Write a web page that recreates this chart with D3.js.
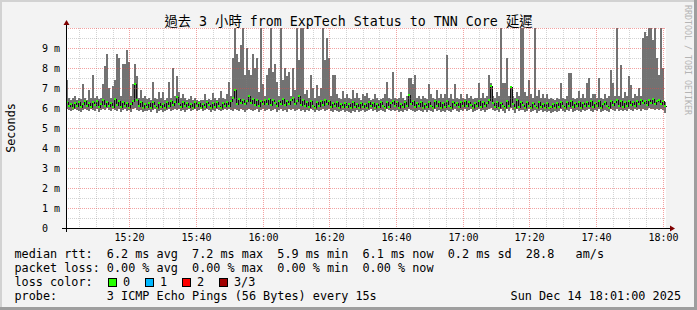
<!DOCTYPE html>
<html>
<head>
<meta charset="utf-8">
<script src="https://cdnjs.cloudflare.com/ajax/libs/d3/7.8.5/d3.min.js"></script>
<style>
    body { margin: 0; background: #fff; }
    svg text { font-family: "DejaVu Sans Mono", "Noto Sans CJK TC", monospace; white-space: pre; }
</style>
</head>
<body>
<script>
// ping rtt in ms, one entry per 36 s column (300 columns over 3 h)
var maxRtt = [
    7.4, 6.5, 6.4, 6.5, 6.6, 6.4, 6.5, 6.45, 7.2, 6.5, 6.4, 6.9, 6.5, 7.65, 6.5, 6.6, 6.45, 6.5, 7.2, 8.1,
    8.7, 7.0, 6.5, 7.1, 7.4, 8.7, 8.5, 6.6, 8.2, 8.2, 8.9, 8.3, 6.6, 7.2, 8.2, 7.6, 6.5, 6.9, 6.5, 6.6,
    6.45, 6.5, 6.4, 7.3, 6.5, 6.45, 6.8, 6.5, 6.8, 6.4, 6.5, 7.3, 6.5, 8.0, 6.6, 7.6, 6.8, 6.5, 6.7, 6.5,
    6.4, 6.45, 6.6, 6.4, 6.5, 6.4, 6.35, 6.4, 6.4, 6.7, 6.4, 6.45, 6.4, 6.75, 6.5, 6.4, 6.5, 6.85, 6.5, 6.45,
    6.7, 7.3, 6.6, 8.5, 10.2, 8.7, 8.3, 9.15, 10.2, 7.65, 9.0, 7.9, 7.65, 8.7, 8.0, 8.5, 6.8, 10.2, 7.2, 6.6,
    7.65, 8.0, 10.2, 7.8, 8.2, 7.3, 6.6, 10.2, 7.4, 8.0, 7.6, 7.8, 6.6, 8.0, 6.9, 10.2, 8.4, 10.2, 10.2, 6.7,
    6.9, 6.5, 7.65, 7.0, 6.5, 7.15, 6.6, 7.0, 10.2, 8.4, 9.5, 8.5, 6.6, 7.65, 7.65, 6.7, 6.5, 6.45, 6.85, 6.5,
    6.7, 6.5, 6.45, 6.9, 6.5, 6.75, 6.5, 6.4, 6.7, 6.6, 6.75, 6.5, 6.4, 6.45, 6.7, 6.5, 6.4, 6.45, 6.5, 6.7,
    7.3, 6.5, 6.45, 7.8, 6.5, 6.45, 6.5, 6.8, 6.5, 6.4, 6.6, 7.5, 7.5, 7.2, 7.65, 6.5, 6.6, 6.45, 6.6, 6.5,
    6.45, 7.2, 6.7, 6.5, 6.45, 6.9, 6.5, 6.7, 6.5, 6.7, 8.65, 6.5, 6.7, 6.45, 7.2, 6.5, 6.45, 6.7, 6.5, 6.45,
    6.7, 6.5, 6.6, 6.45, 6.5, 6.5, 7.25, 6.5, 6.75, 6.5, 6.6, 7.65, 7.25, 6.6, 6.5, 6.8, 6.6, 10.2, 7.25, 7.25,
    8.5, 6.6, 7.1, 6.6, 6.5, 6.8, 6.6, 10.2, 10.2, 6.8, 6.6, 7.4, 6.7, 6.5, 10.2, 6.6, 6.9, 6.5, 6.7, 6.5,
    6.7, 6.45, 6.5, 6.45, 6.4, 6.5, 6.45, 7.25, 6.5, 6.45, 6.6, 7.75, 7.75, 6.5, 6.45, 6.5, 6.85, 6.5, 6.7, 6.5,
    7.25, 7.5, 6.5, 6.7, 6.7, 6.5, 7.5, 6.5, 6.45, 6.7, 6.5, 6.6, 7.9, 7.25, 6.6, 10.2, 6.6, 8.15, 6.5, 6.8,
    6.6, 7.6, 7.15, 6.5, 6.7, 6.6, 7.0, 6.6, 9.5, 9.8, 9.6, 10.2, 10.0, 9.4, 10.2, 8.5, 7.65, 10.2, 8.0, 6.3
];
var medianRtt = [
    6.3, 6.1, 6.2, 6.0, 6.25, 6.1, 6.3, 6.05, 6.2, 6.35, 6.1, 6.25, 6.05, 6.3, 6.15, 6.35, 6.05, 6.2, 6.4, 6.1,
    6.3, 6.1, 6.25, 6.05, 6.45, 6.15, 6.35, 6.05, 6.3, 6.1, 6.25, 6.0, 6.2, 6.35, 7.2, 6.4, 6.1, 6.3, 6.0, 6.2,
    6.05, 6.25, 6.0, 6.3, 6.1, 6.0, 6.25, 6.05, 6.2, 6.0, 6.3, 6.1, 6.35, 6.15, 6.3, 6.55, 6.2, 6.05, 6.3, 6.1,
    6.25, 6.05, 6.2, 6.0, 6.3, 6.1, 6.25, 6.0, 6.2, 6.05, 6.3, 6.15, 6.0, 6.25, 6.05, 6.3, 6.1, 6.0, 6.25, 6.1,
    6.3, 6.1, 6.35, 6.5, 6.9, 6.2, 6.45, 6.25, 6.4, 6.2, 6.35, 6.6, 6.25, 6.45, 6.15, 6.4, 6.1, 6.35, 6.2, 6.4,
    6.2, 6.45, 6.15, 6.4, 6.25, 6.1, 6.35, 6.2, 6.45, 6.15, 6.35, 6.2, 6.4, 6.5, 6.2, 6.35, 6.6, 6.15, 6.4, 6.1,
    6.3, 6.05, 6.35, 6.1, 6.0, 6.3, 6.1, 6.35, 6.15, 6.4, 6.2, 6.35, 6.05, 6.25, 6.1, 6.3, 6.0, 6.2, 6.05, 6.25,
    6.05, 6.2, 6.0, 6.3, 6.05, 6.2, 6.0, 6.25, 6.05, 6.2, 6.0, 6.3, 6.1, 6.25, 6.0, 6.2, 6.05, 6.3, 6.1, 6.0,
    6.3, 6.05, 6.25, 6.35, 6.1, 6.3, 6.0, 6.2, 6.05, 6.3, 6.1, 6.65, 6.2, 6.35, 6.05, 6.25, 6.1, 6.3, 6.0, 6.2,
    6.05, 6.3, 6.1, 6.0, 6.35, 6.1, 6.3, 6.0, 6.25, 6.05, 6.35, 6.1, 6.0, 6.3, 6.15, 6.25, 6.05, 6.3, 6.1, 6.35,
    6.1, 6.3, 6.15, 6.0, 6.25, 6.1, 6.35, 6.05, 6.3, 6.1, 6.25, 6.4, 7.1, 6.25, 6.05, 6.3, 6.0, 6.25, 6.1, 6.0,
    6.35, 6.1, 7.05, 6.2, 6.0, 6.4, 6.05, 6.3, 6.15, 6.0, 6.3, 6.1, 6.0, 6.25, 6.1, 6.0, 6.3, 6.05, 6.2, 6.0,
    6.25, 6.0, 6.05, 6.2, 6.0, 6.25, 6.05, 6.3, 6.1, 6.0, 6.3, 6.1, 6.35, 6.05, 6.25, 6.1, 6.3, 6.0, 6.25, 6.1,
    6.3, 6.1, 6.35, 6.05, 6.25, 6.1, 6.35, 6.0, 6.2, 6.3, 6.1, 6.0, 6.35, 6.15, 6.3, 6.4, 6.1, 6.35, 6.05, 6.3,
    6.1, 6.35, 6.15, 6.3, 6.1, 6.35, 6.2, 6.4, 6.25, 6.35, 6.15, 6.4, 6.25, 6.45, 6.2, 6.35, 6.4, 6.2, 6.35, 6.1
];
var minRtt = [
    5.95, 5.9, 5.85, 5.9, 5.95, 5.9, 5.85, 5.8, 5.9, 5.95, 5.9, 5.85, 5.95, 5.9, 5.85, 5.95, 5.8, 5.9, 5.95, 5.9,
    6.0, 5.9, 5.85, 5.95, 5.9, 5.85, 5.95, 5.8, 5.9, 5.95, 5.85, 5.9, 5.8, 5.95, 6.0, 5.9, 5.85, 5.9, 5.8, 5.85,
    5.85, 5.9, 5.8, 5.9, 5.95, 5.75, 5.85, 5.9, 5.8, 5.85, 5.9, 5.95, 5.85, 5.9, 5.95, 5.9, 5.95, 5.85, 5.9, 5.8,
    5.9, 5.95, 5.85, 5.9, 5.95, 5.85, 5.9, 5.95, 5.85, 5.9, 5.95, 5.9, 5.8, 5.9, 5.85, 5.95, 5.9, 5.85, 5.9, 5.95,
    5.9, 5.95, 5.9, 5.85, 5.95, 5.9, 5.85, 5.95, 5.9, 5.8, 5.9, 5.95, 5.9, 5.85, 5.9, 5.95, 5.8, 5.9, 5.95, 5.85,
    5.9, 5.95, 5.85, 5.9, 5.95, 5.8, 5.9, 5.95, 5.85, 5.9, 5.8, 5.95, 5.9, 5.95, 5.85, 5.9, 5.95, 5.85, 5.9, 5.8,
    5.9, 5.85, 5.95, 5.9, 5.8, 5.9, 5.85, 5.9, 5.95, 5.85, 5.9, 5.95, 5.85, 5.8, 5.9, 5.85, 5.8, 5.85, 5.9, 5.8,
    5.85, 5.8, 5.75, 5.85, 5.8, 5.9, 5.8, 5.85, 5.9, 5.8, 5.85, 5.9, 5.95, 5.85, 5.9, 5.8, 5.85, 5.9, 5.85, 5.8,
    5.95, 5.9, 5.85, 5.9, 5.85, 5.9, 5.8, 5.85, 5.8, 5.9, 5.85, 5.95, 5.9, 5.85, 5.8, 5.85, 5.9, 5.85, 5.8, 5.9,
    5.8, 5.9, 5.85, 5.8, 5.95, 5.85, 5.9, 5.8, 5.85, 5.8, 5.9, 5.85, 5.8, 5.9, 5.95, 5.85, 5.8, 5.9, 5.85, 5.95,
    5.85, 5.9, 5.95, 5.8, 5.85, 5.9, 5.95, 5.85, 5.9, 5.8, 5.9, 5.95, 6.0, 5.9, 5.85, 5.9, 5.8, 5.95, 5.85, 5.75,
    5.95, 5.85, 6.0, 5.9, 5.75, 5.95, 5.85, 5.9, 5.9, 5.8, 5.85, 5.95, 5.8, 5.85, 5.9, 5.75, 5.85, 5.9, 5.8, 5.85,
    5.8, 5.85, 5.75, 5.8, 5.85, 5.8, 5.85, 5.95, 5.85, 5.8, 5.9, 5.85, 5.95, 5.8, 5.85, 5.9, 5.85, 5.8, 5.9, 5.85,
    5.9, 5.95, 5.85, 5.8, 5.9, 5.85, 5.95, 5.8, 5.85, 5.9, 5.85, 5.8, 5.95, 5.9, 5.85, 5.95, 5.85, 5.9, 5.85, 5.9,
    5.85, 5.95, 5.9, 5.85, 5.95, 5.9, 5.95, 5.85, 5.95, 5.9, 5.9, 6.0, 5.95, 5.95, 5.9, 5.95, 5.9, 5.95, 5.9, 5.75
];

var yTickValues = [0, 1, 2, 3, 4, 5, 6, 7, 8, 9];
var yTickLabels = ["0  ", "1 m", "2 m", "3 m", "4 m", "5 m", "6 m", "7 m", "8 m", "9 m"];
var xTickLabels = ["15:20", "15:40", "16:00", "16:20", "16:40", "17:00", "17:20", "17:40", "18:00"];
var startTime = new Date(2025, 11, 14, 15, 1, 0);
var endTime = new Date(2025, 11, 14, 18, 1, 0);

var title = "過去 3 小時 from ExpTech Status to TNN Core 延遲";
var legendLines = [
    "median rtt:  6.2 ms avg  7.2 ms max  5.9 ms min  6.1 ms now  0.2 ms sd  28.8   am/s",
    "packet loss: 0.00 % avg  0.00 % max  0.00 % min  0.00 % now",
    "loss color:",
    "probe:       3 ICMP Echo Pings (56 Bytes) every 15s"
];
var lossLabels = ["0", "1", "2", "3/3"];
var lossColors = ["#26ff00", "#00b8ff", "#ff0000", "#a00000"];
var stamp = "Sun Dec 14 18:01:00 2025";

function init() {
    var w = 697;
    var h = 310;
    var left = 66, right = 666, top = 28, bottom = 228;

    var svg = d3.select("body")
        .append("svg")
        .attr("width", w)
        .attr("height", h);

    // background with 3d frame
    svg.append("rect").attr("width", w).attr("height", h).attr("fill", "#f3f3f3");
    svg.append("rect").attr("x", 0).attr("y", 0).attr("width", w).attr("height", 2).attr("fill", "#d2d2d2");
    svg.append("rect").attr("x", 0).attr("y", 0).attr("width", 2).attr("height", h).attr("fill", "#d2d2d2");
    svg.append("rect").attr("x", 0).attr("y", h - 3).attr("width", w).attr("height", 3).attr("fill", "#9e9e9e");
    svg.append("rect").attr("x", w - 3).attr("y", 0).attr("width", 3).attr("height", h).attr("fill", "#9e9e9e");

    // canvas
    svg.append("rect")
        .attr("x", left).attr("y", top)
        .attr("width", right - left).attr("height", bottom - top)
        .attr("fill", "#ffffff");

    var xScale = d3.scaleTime()
        .domain([startTime, endTime])
        .range([left, right]);

    var yScale = d3.scaleLinear()
        .domain([0, 10])
        .range([bottom, top])
        .clamp(true);

    var step = (endTime - startTime) / maxRtt.length;
    var samples = maxRtt.map(function (d, i) {
        return {
            t0: new Date(+startTime + i * step),
            t1: new Date(+startTime + (i + 1) * step),
            max: d,
            med: medianRtt[i],
            min: minRtt[i]
        };
    });

    // smoke
    svg.append("g")
        .attr("shape-rendering", "crispEdges")
        .selectAll("rect")
        .data(samples)
        .enter()
        .append("rect")
        .attr("x", function (d) { return Math.round(xScale(d.t0)); })
        .attr("width", function (d) { return Math.round(xScale(d.t1)) - Math.round(xScale(d.t0)); })
        .attr("y", function (d) { return Math.round(yScale(d.max)); })
        .attr("height", function (d) { return Math.round(yScale(d.min)) - Math.round(yScale(d.max)); })
        .attr("fill", "#727272");

    // median step line
    var pts = samples.map(function (d) { return [xScale(d.t0), d.med]; });
    pts.push([xScale(endTime), samples[samples.length - 1].med]);
    var line = d3.line()
        .x(function (d) { return Math.round(d[0]) + 0.5; })
        .y(function (d) { return Math.round(yScale(d[1])) + 0.5; })
        .curve(d3.curveStepAfter);
    svg.append("path")
        .attr("d", line(pts))
        .attr("fill", "none")
        .attr("stroke", "#111111")
        .attr("stroke-width", 1)
        .attr("shape-rendering", "crispEdges");

    // median coloured by loss (all 0 loss here)
    svg.append("g")
        .attr("shape-rendering", "crispEdges")
        .selectAll("rect")
        .data(samples)
        .enter()
        .append("rect")
        .attr("x", function (d) { return Math.round(xScale(d.t0)); })
        .attr("width", function (d) { return Math.round(xScale(d.t1)) - Math.round(xScale(d.t0)); })
        .attr("y", function (d) { return Math.round(yScale(d.med)) - 1; })
        .attr("height", 2)
        .attr("fill", lossColors[0]);

    // grid, drawn over the data like rrdtool does
    var majorTimes = xTickLabels.map(function (s) {
        var p = s.split(":");
        return new Date(2025, 11, 14, +p[0], +p[1], 0);
    });
    var minorTimes = xScale.ticks(d3.timeMinute.every(5)).filter(function (t) {
        return t.getMinutes() % 20 !== 0;
    });
    var minorY = d3.range(0.5, 10, 0.5).filter(function (v) { return v % 1 !== 0; });
    var majorY = d3.range(1, 11, 1);

    var grid = svg.append("g").attr("shape-rendering", "crispEdges");
    grid.selectAll(".vminor").data(minorTimes).enter().append("line")
        .attr("x1", function (d) { return Math.round(xScale(d)) + 0.5; })
        .attr("x2", function (d) { return Math.round(xScale(d)) + 0.5; })
        .attr("y1", top).attr("y2", bottom)
        .attr("stroke", "rgba(128,128,128,0.35)").attr("stroke-dasharray", "1,1");
    grid.selectAll(".hminor").data(minorY).enter().append("line")
        .attr("y1", function (d) { return Math.round(yScale(d)) + 0.5; })
        .attr("y2", function (d) { return Math.round(yScale(d)) + 0.5; })
        .attr("x1", left).attr("x2", right)
        .attr("stroke", "rgba(128,128,128,0.35)").attr("stroke-dasharray", "1,1");
    grid.selectAll(".vmajor").data(majorTimes).enter().append("line")
        .attr("x1", function (d) { return Math.round(xScale(d)) + 0.5; })
        .attr("x2", function (d) { return Math.round(xScale(d)) + 0.5; })
        .attr("y1", top).attr("y2", bottom)
        .attr("stroke", "rgba(230,70,70,0.5)").attr("stroke-dasharray", "1,1");
    grid.selectAll(".hmajor").data(majorY).enter().append("line")
        .attr("y1", function (d) { return Math.round(yScale(d)) + 0.5; })
        .attr("y2", function (d) { return Math.round(yScale(d)) + 0.5; })
        .attr("x1", left).attr("x2", right)
        .attr("stroke", "rgba(230,70,70,0.5)").attr("stroke-dasharray", "1,1");

    // axes with arrows
    svg.append("line")
        .attr("x1", left - 4).attr("x2", right + 6)
        .attr("y1", bottom + 0.5).attr("y2", bottom + 0.5)
        .attr("stroke", "#000").attr("shape-rendering", "crispEdges");
    svg.append("line")
        .attr("x1", left + 0.5).attr("x2", left + 0.5)
        .attr("y1", bottom + 4).attr("y2", top - 6)
        .attr("stroke", "#000").attr("shape-rendering", "crispEdges");
    svg.append("path")
        .attr("d", "M" + (right + 4) + "," + (bottom - 2.5) + " L" + (right + 9) + "," + (bottom + 0.5) +
            " L" + (right + 4) + "," + (bottom + 3.5) + " Z")
        .attr("fill", "#7f0000");
    svg.append("path")
        .attr("d", "M" + (left - 2.5) + "," + (top - 3) + " L" + (left + 0.5) + "," + (top - 8) +
            " L" + (left + 3.5) + "," + (top - 3) + " Z")
        .attr("fill", "#7f0000");

    // y tick labels
    svg.selectAll(".ylab")
        .data(yTickValues)
        .enter()
        .append("text")
        .attr("x", 60)
        .attr("y", function (d) { return Math.round(yScale(d)) + 4; })
        .attr("text-anchor", "end")
        .attr("font-size", "10px")
        .attr("fill", "#000")
        .attr("xml:space", "preserve")
        .text(function (d, i) { return yTickLabels[i]; });

    // x tick labels
    svg.selectAll(".xlab")
        .data(majorTimes)
        .enter()
        .append("text")
        .attr("x", function (d) { return Math.round(xScale(d)) + 0.5; })
        .attr("y", 241)
        .attr("text-anchor", "middle")
        .attr("font-size", "10px")
        .attr("fill", "#000")
        .text(function (d, i) { return xTickLabels[i]; });

    // title
    svg.append("text")
        .attr("x", w / 2)
        .attr("y", 26)
        .attr("text-anchor", "middle")
        .attr("font-size", "13.3px")
        .attr("fill", "#000")
        .text(title);

    // vertical axis label
    svg.append("text")
        .attr("transform", "translate(15," + ((top + bottom) / 2) + ") rotate(-90)")
        .attr("text-anchor", "middle")
        .attr("font-size", "11.8px")
        .attr("fill", "#000")
        .text("Seconds");

    // watermark
    svg.append("text")
        .attr("transform", "translate(685,5) rotate(90)")
        .attr("font-size", "8.3px")
        .attr("fill", "#b4b4b4")
        .text("RRDTOOL / TOBI OETIKER");

    // legend
    svg.selectAll(".leg")
        .data(legendLines)
        .enter()
        .append("text")
        .attr("x", 14.5)
        .attr("y", function (d, i) { return 258 + i * 14; })
        .attr("font-size", "11.8px")
        .attr("fill", "#000")
        .attr("xml:space", "preserve")
        .text(function (d) { return d; });

    var boxes = svg.selectAll(".lossbox")
        .data(lossLabels)
        .enter()
        .append("g")
        .attr("transform", function (d, i) { return "translate(" + (108 + i * 37) + ",0)"; });
    boxes.append("rect")
        .attr("x", 0.5).attr("y", 278.5)
        .attr("width", 8).attr("height", 8)
        .attr("fill", function (d, i) { return lossColors[i]; })
        .attr("stroke", "#000")
        .attr("shape-rendering", "crispEdges");
    boxes.append("text")
        .attr("x", 15)
        .attr("y", 286)
        .attr("font-size", "11.8px")
        .attr("fill", "#000")
        .text(function (d) { return d; });

    svg.append("text")
        .attr("x", 681)
        .attr("y", 300)
        .attr("text-anchor", "end")
        .attr("font-size", "11.8px")
        .attr("fill", "#000")
        .text(stamp);
}

window.onload = init;
</script>
</body>
</html>
